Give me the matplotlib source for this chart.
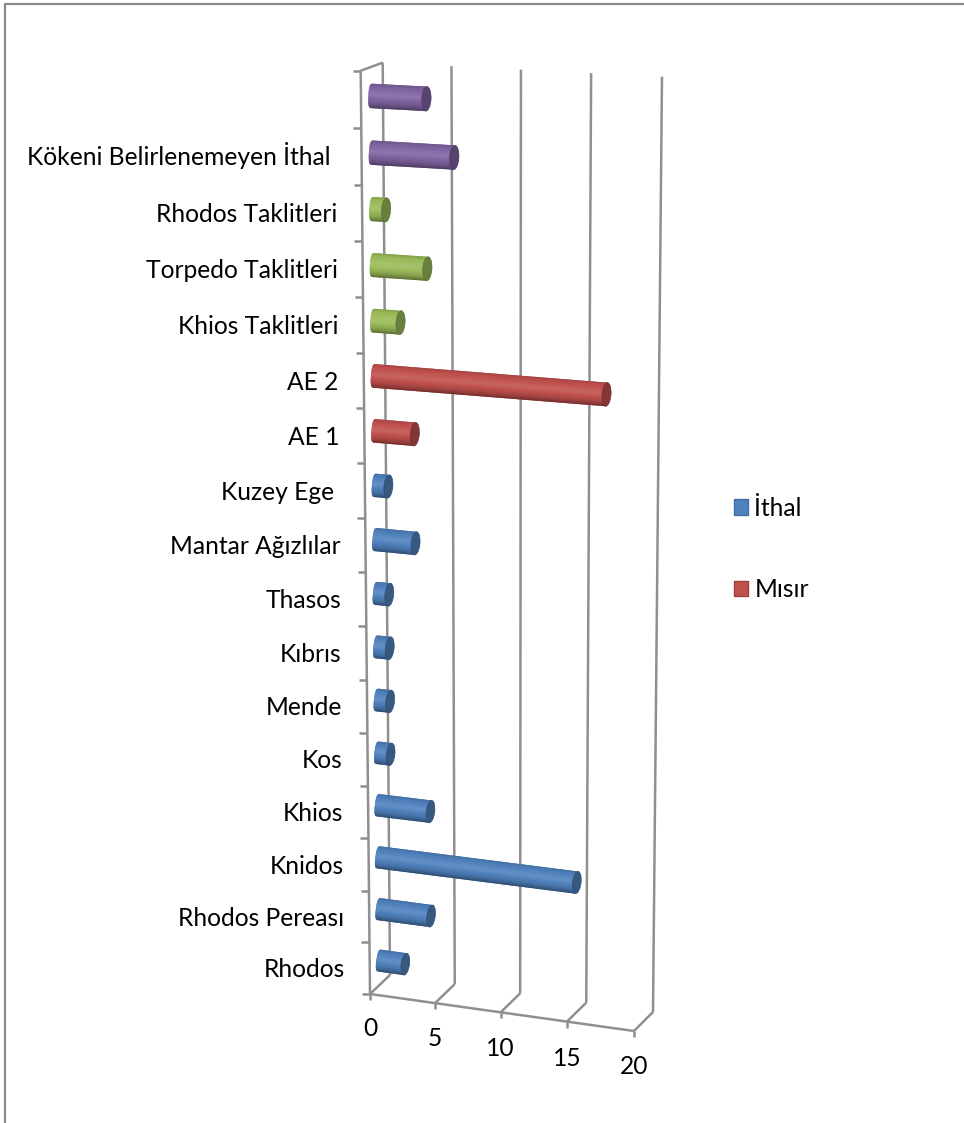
import numpy as np
import matplotlib
matplotlib.use("Agg")
import matplotlib.pyplot as plt
from matplotlib.patches import Polygon, Ellipse, Patch

categories = ["Rhodos", "Rhodos Pereası", "Knidos", "Khios", "Kos", "Mende", "Kıbrıs",
              "Thasos", "Mantar Ağızlılar", "Kuzey Ege ", "AE 1", "AE 2",
              "Khios Taklitleri", "Torpedo Taklitleri", "Rhodos Taklitleri",
              "Kökeni Belirlenemeyen İthal ", ""]
values = [2, 4, 15, 4, 1, 1, 1, 1, 3, 1, 3, 17, 2, 4, 1, 6, 4]
groups = ["blue"] * 10 + ["red"] * 2 + ["green"] * 3 + ["purple"] * 2
value_ticks = [0, 5, 10, 15, 20]
legend_labels = ["İthal", "Mısır"]

palette = {"blue": "#4F81BD", "red": "#C0504D", "green": "#9BBB59", "purple": "#8064A2"}
GRID = "#8F8F8F"
FONT = "Lato"
FS = 17.7

W, H = 964, 1123
fig = plt.figure(figsize=(W / 100, H / 100), dpi=100)
ax = fig.add_axes([0, 0, 1, 1])
ax.set_xlim(0, W)
ax.set_ylim(H, 0)
ax.set_autoscale_on(False)
ax.axis("off")

# chart box corners in figure pixels: (front/back, bottom/top) at value 0 and value 20
FB0, FB1 = np.array([370., 994.]), np.array([634., 1031.])
BB0, BB1 = np.array([390., 975.]), np.array([653., 1012.])
FT0, FT1 = np.array([360.7, 70.7]), np.array([641., 85.])
BT0, BT1 = np.array([382.7, 62.7]), np.array([662., 76.7])
NCAT = len(categories)
VMAX = value_ticks[-1]
PERSP_C = 0.946
PERSP_V = 0.98


def persp(s, w):
    return s * w / (1 + (w - 1) * s)


def project(v, c, d):
    u = persp(v / VMAX, PERSP_V)
    t = persp(c / NCAT, PERSP_C)
    bottom = (FB0 + (FB1 - FB0) * u) * (1 - d) + (BB0 + (BB1 - BB0) * u) * d
    top = (FT0 + (FT1 - FT0) * u) * (1 - d) + (BT0 + (BT1 - BT0) * u) * d
    return bottom * (1 - t) + top * t


def seg(a, b):
    ax.plot([a[0], b[0]], [a[1], b[1]], color=GRID, lw=1.8, solid_capstyle="butt", zorder=2)


# frame of the picture
ax.plot([5, 5, W], [H, 3.5, 3.5], color="#8C8C8C", lw=1.6, zorder=1)

# walls
for v in value_ticks:
    seg(project(v, 0, 1), project(v, NCAT, 1))
    seg(project(v, 0, 0), project(v, 0, 1))
    p = project(v, 0, 0)
    seg(p, p + np.array([0, 6]))
seg(project(0, 0, 0), project(VMAX, 0, 0))
seg(project(0, 0, 0), project(0, NCAT, 0))
seg(project(0, NCAT, 0), project(0, NCAT, 1))
for c in range(NCAT + 1):
    p = project(0, c, 0)
    seg(p, p + np.array([-8, 0]))

# tick labels
for v, dy in zip(value_ticks, [34, 35, 36, 37, 36]):
    p = project(v, 0, 0)
    ax.text(p[0], p[1] + dy, str(v), ha="center", va="center", fontsize=FS, family=FONT, color="black")
for c, lab in enumerate(categories):
    p = project(0, c + 0.5, 0)
    ax.text(p[0] - 25, p[1] + 9, lab, ha="right", va="baseline", fontsize=FS, family=FONT, color="black")


def shade(col, f):
    rgb = np.array(matplotlib.colors.to_rgb(col))
    return rgb * f if f <= 1 else rgb + (1 - rgb) * (f - 1)


STOPS_U = [-1, -0.75, -0.1, 0.55, 0.85, 1]
STOPS_F = [0.85, 0.97, 1.12, 0.90, 0.72, 0.55]
BAR_D = 0.42
BAR_T = 0.215
BAR_SHIFT = 1.2


def cylinder(v, c, col):
    S = project(0, c + 0.5, BAR_D)
    E = project(v, c + 0.5, BAR_D)
    axis = (E - S) / np.linalg.norm(E - S)
    S = S + axis * BAR_SHIFT
    E = E + axis * BAR_SHIFT
    perp = np.array([-axis[1], axis[0]])
    if perp[1] < 0:
        perp = -perp
    r = 0.5 * np.linalg.norm(project(0, c + 0.5 + BAR_T, BAR_D) - project(0, c + 0.5 - BAR_T, BAR_D))
    rx = r * 0.38
    bulge = 3.0
    a = np.linspace(-1, 1, 41)
    left = [S + ai * r * perp - (1 - abs(ai) ** 2.6) ** (1 / 2.6) * bulge * axis for ai in a]
    outline = left + [E + r * perp, E - r * perp]
    body = Polygon(outline, closed=True, facecolor=col, edgecolor="none", zorder=3)
    ax.add_patch(body)
    # shading across the cylinder
    pts = np.array(outline)
    x0, y0 = np.floor(pts.min(axis=0)) - 1
    x1, y1 = np.ceil(pts.max(axis=0)) + 1
    xs = np.arange(x0, x1, 0.5) + 0.25
    ys = np.arange(y0, y1, 0.5) + 0.25
    X, Y = np.meshgrid(xs, ys)
    U = ((X - S[0]) * perp[0] + (Y - S[1]) * perp[1]) / r
    F = np.interp(U, STOPS_U, STOPS_F)
    base = np.array(matplotlib.colors.to_rgb(col))
    img = np.where(F[..., None] <= 1, base * F[..., None], base + (1 - base) * (F[..., None] - 1))
    im = ax.imshow(np.clip(img, 0, 1), extent=(x0, x1, y1, y0), origin="upper",
                   aspect="auto", interpolation="bilinear", zorder=3.1)
    im.set_clip_path(body)
    ang = np.degrees(np.arctan2(axis[1], axis[0]))
    ax.add_patch(Ellipse(E, 2 * rx, 2 * r, angle=ang, facecolor=shade(col, 0.68),
                         edgecolor=shade(col, 0.62), lw=0.5, zorder=4))


for i, v in enumerate(values):
    cylinder(v, i, palette[groups[i] if i < len(groups) else "purple"])

handles = [Patch(facecolor=palette["blue"], edgecolor="#3F6FA8"),
           Patch(facecolor=palette["red"], edgecolor="#A03F3C")]
ax.legend(handles, legend_labels, loc="center left", bbox_to_anchor=(734 / W, 1 - 549 / H),
          bbox_transform=fig.transFigure, frameon=False, prop={"family": FONT, "size": FS},
          handlelength=0.58, handleheight=0.58, handletextpad=0.25, labelspacing=2.38,
          borderpad=0, borderaxespad=0)
ax.set_xlim(0, W)
ax.set_ylim(H, 0)

fig.savefig("out.png", dpi=100, facecolor="white")
